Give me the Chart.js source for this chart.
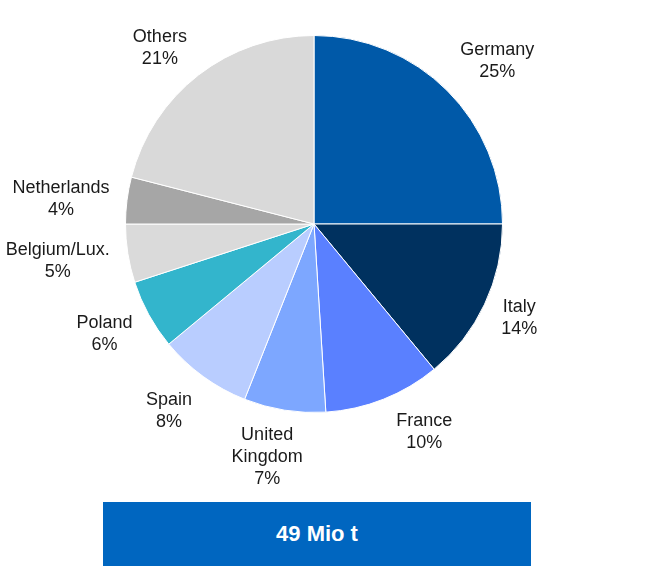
<!DOCTYPE html>
<html>
<head>
<meta charset="utf-8">
<script src="https://cdn.jsdelivr.net/npm/chart.js@4"></script>
<style>
  html, body { margin: 0; padding: 0; background: #fff; }
  body { width: 651px; height: 587px; position: relative; overflow: hidden; font-family: "Liberation Sans", Arial, sans-serif; }
  #wrap { position: absolute; left: 0; top: 0; width: 651px; height: 500px; }
  #total {
    position: absolute; left: 103px; top: 502px; width: 428px; height: 64px;
    background: #0066C0; color: #fff; font-weight: bold; font-size: 22px;
    display: flex; align-items: center; justify-content: center;
  }
</style>
</head>
<body>
<div id="wrap"><canvas id="pie"></canvas></div>
<div id="total">49 Mio t</div>
<script>
// --- data ---
const countries = ['Germany', 'Italy', 'France', 'United\nKingdom', 'Spain', 'Poland', 'Belgium/Lux.', 'Netherlands', 'Others'];
const shares = [25, 14, 10, 7, 8, 6, 5, 4, 21];
const sliceColors = ['#0059A8', '#00315F', '#5A80FF', '#7DA7FF', '#B9CDFF', '#33B5CC', '#DADADA', '#A6A6A6', '#D9D9D9'];

// small hand nudges so the labels sit where the original placed them
const labelNudge = [[11, -1], [2, -3], [24, -4], [-9, -4], [-10, 2], [-4, 0], [-1, 1], [0, 4], [-11, 5]];

// labels outside each slice, pushed out along the slice's middle angle
const outsideLabels = {
    id: 'outsideLabels',
    afterDatasetsDraw(chart) {
        const ctx = chart.ctx;
        const meta = chart.getDatasetMeta(0);
        ctx.save();
        ctx.font = '18px "Liberation Sans", Arial, sans-serif';
        ctx.fillStyle = '#1a1a1a';
        ctx.textAlign = 'center';
        ctx.textBaseline = 'middle';
        const lineH = 22;
        meta.data.forEach((arc, i) => {
            const mid = (arc.startAngle + arc.endAngle) / 2;
            const dx = Math.cos(mid), dy = Math.sin(mid);
            const lines = countries[i].split('\n').concat([shares[i] + '%']);
            const w = Math.max(...lines.map(l => ctx.measureText(l).width));
            const h = lines.length * lineH;
            const d = arc.outerRadius + 18;
            const cx = arc.x + dx * d + dx * w / 2 + labelNudge[i][0];
            const cy = arc.y + dy * d + dy * h / 2 + labelNudge[i][1];
            lines.forEach((l, k) => {
                ctx.fillText(l, cx, cy - h / 2 + lineH / 2 + k * lineH);
            });
        });
        ctx.restore();
    }
};

new Chart(document.getElementById('pie'), {
    type: 'pie',
    data: {
        labels: countries,
        datasets: [{
            data: shares,
            backgroundColor: sliceColors,
            borderColor: '#ffffff',
            borderWidth: 1
        }]
    },
    options: {
        responsive: true,
        maintainAspectRatio: false,
        animation: false,
        layout: { padding: { left: 125, right: 148, top: 35, bottom: 87 } },
        plugins: { legend: { display: false }, tooltip: { enabled: false } }
    },
    plugins: [outsideLabels]
});
</script>
</body>
</html>
